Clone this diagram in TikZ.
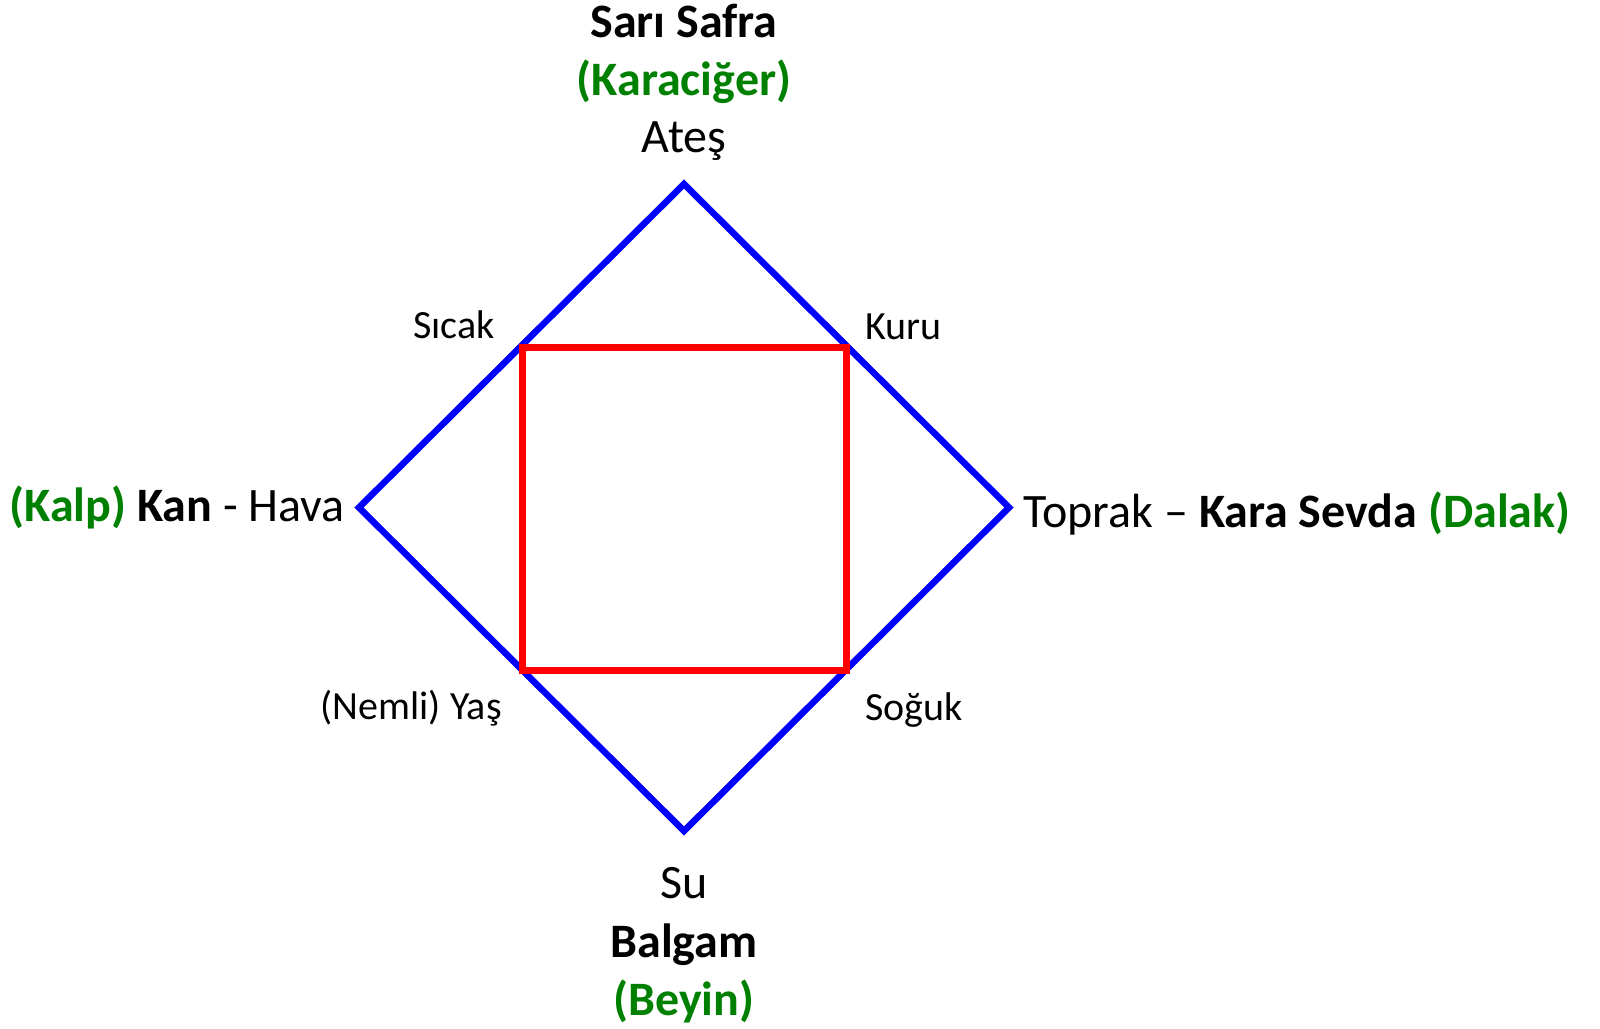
\documentclass[tikz,border=0pt]{standalone}
\usepackage{fontspec}
\setmainfont{Carlito}
\definecolor{organgreen}{RGB}{0,128,0}
\definecolor{diamondblue}{RGB}{0,0,255}
\definecolor{squarered}{RGB}{255,0,0}
\tikzset{
  bigtext/.style={inner sep=0pt, font=\fontsize{48}{58}\selectfont, text=black},
  smalltext/.style={inner sep=0pt, font=\fontsize{40}{48}\selectfont, text=black},
  diamondline/.style={draw=diamondblue, line width=6.5pt},
  squareline/.style={draw=squarered, line width=7pt},
}
\newcommand{\organ}[1]{\textcolor{organgreen}{\textbf{#1}}}
\begin{document}
\begin{tikzpicture}[x=1pt,y=-1pt]
\useasboundingbox (0,0) rectangle (1600,1028);
% diamond vertices
\coordinate (top) at (684,184);
\coordinate (left) at (359,507.5);
\coordinate (right) at (1009,507.5);
\coordinate (bottom) at (684,831);
% square corners
\coordinate (sqtl) at (522.7,347.5);
\coordinate (sqtr) at (846.3,347.5);
\coordinate (sqbr) at (846.3,670.8);
\coordinate (sqbl) at (522.7,670.8);
\draw[diamondline] (top) -- (right) -- (bottom) -- (left) -- cycle;
\draw[squareline] (sqtl) -- (sqtr) -- (sqbr) -- (sqbl) -- cycle;
% top labels
\node[bigtext, anchor=base] (sari) at (684,37) {\textbf{Sarı Safra}};
\node[bigtext, anchor=base] (karaciger) at (684,95) {\organ{(Karaciğer)}};
\node[bigtext, anchor=base] (ates) at (684,152) {Ateş};
% left label
\node[bigtext, anchor=base east] (kan) at (345,521) {\organ{(Kalp)} \textbf{Kan} - Hava};
% right label
\node[bigtext, anchor=base west] (toprak) at (1023,527) {Toprak – \textbf{Kara Sevda} \organ{(Dalak)}};
% bottom labels
\node[bigtext, anchor=base] (su) at (684,898) {Su};
\node[bigtext, anchor=base] (balgam) at (684,957) {\textbf{Balgam}};
\node[bigtext, anchor=base] (beyin) at (684,1015) {\organ{(Beyin)}};
% qualities
\node[smalltext, anchor=base east] (sicak) at (495,338) {Sıcak};
\node[smalltext, anchor=base west] (kuru) at (865,339) {Kuru};
\node[smalltext, anchor=base east] (yas) at (502,719) {(Nemli) Yaş};
\node[smalltext, anchor=base west] (soguk) at (865,720) {Soğuk};
\end{tikzpicture}
\end{document}
